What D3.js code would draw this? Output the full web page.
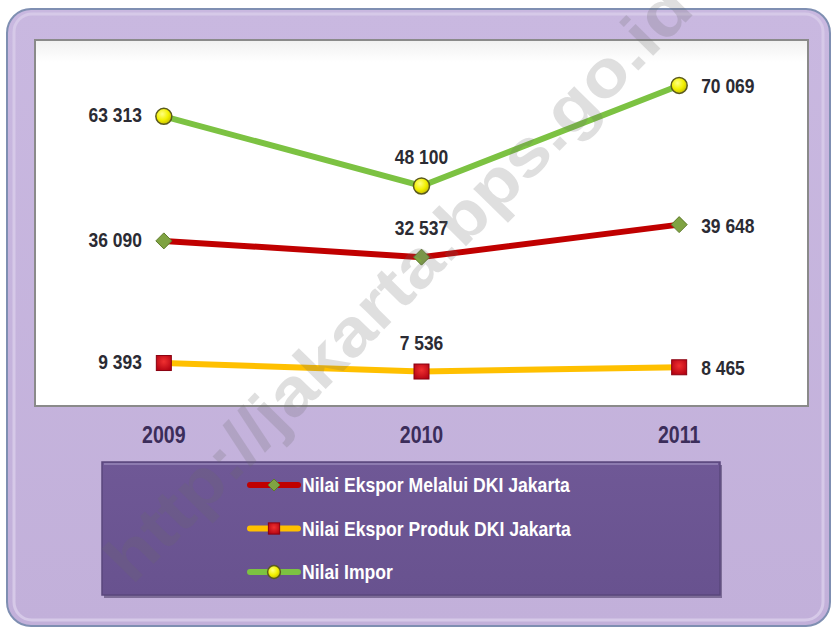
<!DOCTYPE html>
<html>
<head>
<meta charset="utf-8">
<script src="https://cdn.jsdelivr.net/npm/d3@7"></script>
<style>
  body { margin: 0; background: #fff; }
  svg { display: block; }
</style>
</head>
<body>
<div id="chart"></div>
<script>
var width = 832;
var height = 628;

// data
var years = ["2009", "2010", "2011"];
var eksporMelalui = [36090, 32537, 39648];
var eksporProduk = [9393, 7536, 8465];
var impor = [63313, 48100, 70069];
var seriesNames = ["Nilai Ekspor Melalui DKI Jakarta", "Nilai Ekspor Produk DKI Jakarta", "Nilai Impor"];

var fontMain = "'Liberation Sans', Arial, sans-serif";

var svg = d3.select("#chart")
    .append("svg")
    .attr("width", width)
    .attr("height", height);

var defs = svg.append("defs");

var frameGrad = defs.append("linearGradient").attr("id", "frameGrad")
    .attr("x1", 0).attr("y1", 0).attr("x2", 0).attr("y2", 1);
frameGrad.append("stop").attr("offset", "0%").attr("stop-color", "#c9b8e0");
frameGrad.append("stop").attr("offset", "100%").attr("stop-color", "#c2b0da");

var legGrad = defs.append("linearGradient").attr("id", "legGrad")
    .attr("x1", 0).attr("y1", 0).attr("x2", 0).attr("y2", 1);
legGrad.append("stop").attr("offset", "0%").attr("stop-color", "#6f5896");
legGrad.append("stop").attr("offset", "100%").attr("stop-color", "#68528f");

var plotGrad = defs.append("linearGradient").attr("id", "plotGrad")
    .attr("x1", 0).attr("y1", 0).attr("x2", 0).attr("y2", 1);
plotGrad.append("stop").attr("offset", "0%").attr("stop-color", "#f0f0f0");
plotGrad.append("stop").attr("offset", "6%").attr("stop-color", "#ffffff");
plotGrad.append("stop").attr("offset", "100%").attr("stop-color", "#ffffff");

var ballGrad = defs.append("radialGradient").attr("id", "ballGrad")
    .attr("cx", "40%").attr("cy", "35%").attr("r", "65%");
ballGrad.append("stop").attr("offset", "0%").attr("stop-color", "#ffff80");
ballGrad.append("stop").attr("offset", "60%").attr("stop-color", "#f2f000");
ballGrad.append("stop").attr("offset", "100%").attr("stop-color", "#c8c000");

var sqGrad = defs.append("radialGradient").attr("id", "sqGrad")
    .attr("cx", "50%").attr("cy", "40%").attr("r", "70%");
sqGrad.append("stop").attr("offset", "0%").attr("stop-color", "#f03030");
sqGrad.append("stop").attr("offset", "100%").attr("stop-color", "#b00010");

// outer frame
svg.append("rect")
    .attr("x", 7).attr("y", 9)
    .attr("width", 823).attr("height", 617)
    .attr("rx", 24)
    .attr("fill", "url(#frameGrad)")
    .attr("stroke", "#7f8fb2")
    .attr("stroke-width", 2);
svg.append("rect")
    .attr("x", 14).attr("y", 14)
    .attr("width", 809).attr("height", 606)
    .attr("rx", 18)
    .attr("fill", "none")
    .attr("stroke", "#d6c9e8")
    .attr("stroke-width", 3);

// plot area
var plot = { left: 35, right: 808, top: 40, bottom: 406 };
svg.append("rect")
    .attr("x", plot.left).attr("y", plot.top)
    .attr("width", plot.right - plot.left).attr("height", plot.bottom - plot.top)
    .attr("fill", "url(#plotGrad)")
    .attr("stroke", "#8a8a8a")
    .attr("stroke-width", 2);

var x = d3.scalePoint()
    .domain(years)
    .range([plot.left, plot.right])
    .padding(0.5);

var y = d3.scaleLinear()
    .domain([0, 80000])
    .range([plot.bottom, plot.top]);

var fmt = function (v) { return d3.format(",")(v).replace(",", " "); };

var series = [
    { name: seriesNames[0], values: eksporMelalui, color: "#c00000", marker: "diamond" },
    { name: seriesNames[1], values: eksporProduk, color: "#ffc000", marker: "square" },
    { name: seriesNames[2], values: impor, color: "#7cc242", marker: "circle" }
];

var line = d3.line()
    .x(function (d, i) { return x(years[i]); })
    .y(function (d) { return y(d); });

// narrow bold text: the original uses a condensed face
function narrowText(sel, tx, ty, sx, str, anchor, size, color) {
    return sel.append("g")
        .attr("transform", "translate(" + tx + "," + ty + ") scale(" + sx + ",1)")
        .append("text")
        .attr("text-anchor", anchor)
        .attr("font-family", fontMain)
        .attr("font-weight", "bold")
        .attr("font-size", size)
        .attr("fill", color)
        .text(str);
}

var g = svg.append("g");

function drawMarker(sel, type, cx, cy, s) {
    if (type === "circle") {
        sel.append("circle")
            .attr("cx", cx).attr("cy", cy).attr("r", 8 * s)
            .attr("fill", "url(#ballGrad)")
            .attr("stroke", "#5a5a1e")
            .attr("stroke-width", 1.5);
    } else if (type === "square") {
        var w = 15 * s;
        sel.append("rect")
            .attr("x", cx - w / 2).attr("y", cy - w / 2)
            .attr("width", w).attr("height", w)
            .attr("fill", "url(#sqGrad)")
            .attr("stroke", "#8a0010")
            .attr("stroke-width", 1);
    } else {
        var r = 8 * s;
        sel.append("path")
            .attr("d", "M" + cx + "," + (cy - r) + "L" + (cx + r) + "," + cy + "L" + cx + "," + (cy + r) + "L" + (cx - r) + "," + cy + "Z")
            .attr("fill", "#7fa342")
            .attr("stroke", "#5d7a2a")
            .attr("stroke-width", 1);
    }
}

series.forEach(function (s) {
    g.append("path")
        .datum(s.values)
        .attr("d", line)
        .attr("fill", "none")
        .attr("stroke", s.color)
        .attr("stroke-width", 6)
        .attr("stroke-linejoin", "round");
    s.values.forEach(function (v, i) {
        drawMarker(g, s.marker, x(years[i]), y(v), 1);
    });
});

// data labels: left of first, above middle, right of last
var labels = svg.append("g");

series.forEach(function (s) {
    s.values.forEach(function (v, i) {
        var px = x(years[i]), py = y(v);
        if (i === 0) {
            narrowText(labels, px - 22, py + 6, 0.83, fmt(v), "end", 21, "#2b2b33");
        } else if (i === 1) {
            narrowText(labels, px, py - 22, 0.83, fmt(v), "middle", 21, "#2b2b33");
        } else {
            narrowText(labels, px + 22, py + 8, 0.83, fmt(v), "start", 21, "#2b2b33");
        }
    });
});

// x axis labels
var xAxis = svg.append("g");
years.forEach(function (d) {
    narrowText(xAxis, x(d), 443, 0.85, d, "middle", 23, "#3b2d5a");
});

// legend
var leg = { x: 102, y: 462, w: 618, h: 133 };
svg.append("rect")
    .attr("x", leg.x + 2).attr("y", leg.y + 3)
    .attr("width", leg.w).attr("height", leg.h)
    .attr("fill", "#4e3f6a")
    .attr("opacity", 0.6);
svg.append("rect")
    .attr("x", leg.x).attr("y", leg.y)
    .attr("width", leg.w).attr("height", leg.h)
    .attr("fill", "url(#legGrad)")
    .attr("stroke", "#5a477c")
    .attr("stroke-width", 1.5);
svg.append("line")
    .attr("x1", leg.x + 2).attr("x2", leg.x + leg.w - 2)
    .attr("y1", leg.y + 2).attr("y2", leg.y + 2)
    .attr("stroke", "#8d7bb0").attr("stroke-width", 2);

var legItem = svg.append("g").selectAll("g")
    .data(series)
    .enter().append("g")
    .attr("transform", (d, i) => "translate(0," + (485 + i * 43.5) + ")");

legItem.each(function (d) {
    var sel = d3.select(this);
    sel.append("line")
        .attr("x1", 250).attr("x2", 298)
        .attr("y1", 0).attr("y2", 0)
        .attr("stroke", d.color)
        .attr("stroke-width", 6)
        .attr("stroke-linecap", "round");
    drawMarker(sel, d.marker, 274, 0, d.marker === "circle" ? 0.8 : 0.75);
    narrowText(sel, 302, 7, 0.88, d.name, "start", 20, "#ffffff");
});

// watermark
svg.append("text")
    .attr("transform", "translate(132,586) rotate(-45.5)")
    .attr("font-family", fontMain)
    .attr("font-weight", "bold")
    .attr("font-size", 66)
    .attr("fill", "#6b6b6b")
    .attr("opacity", 0.21)
    .attr("textLength", 805)
    .attr("lengthAdjust", "spacingAndGlyphs")
    .text("http://jakarta.bps.go.id");
</script>
</body>
</html>
